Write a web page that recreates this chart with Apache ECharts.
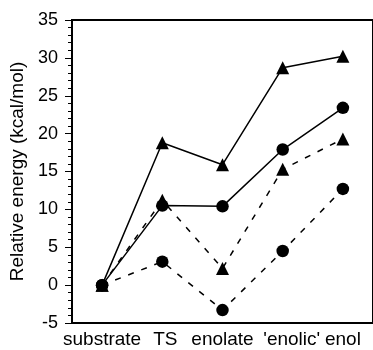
<!DOCTYPE html>
<html>
<head>
<meta charset="utf-8">
<script src="https://cdn.jsdelivr.net/npm/echarts@6/dist/echarts.min.js"></script>
<style>
  html, body { margin: 0; padding: 0; background: #fff; }
  #chart { width: 373px; height: 350px; }
</style>
</head>
<body>
<div id="chart"></div>
<script>
const steps = ["substrate", "TS", "enolate", "'enolic'", "enol"];
const solidTriangle = [0, 18.8, 15.9, 28.7, 30.2];
const solidCircle = [0, 10.5, 10.4, 17.9, 23.4];
const dashedTriangle = [0, 11.2, 2.2, 15.3, 19.3];
const dashedCircle = [0, 3.1, -3.3, 4.5, 12.7];

const FONT = "Liberation Sans";
// small horizontal nudges so the labels sit like the original typeset line
const labelNudge = [0, 6, 0, 18, 0];

function line(data, symbol, dashed) {
  return {
    type: "line",
    data: data,
    symbol: symbol,
    symbolSize: symbol === "circle" ? 12.5 : 13,
    itemStyle: { color: "#000" },
    lineStyle: { color: "#000", width: 1.5, type: dashed ? [6, 8] : "solid" },
    animation: false
  };
}

const rich = {};
labelNudge.forEach((n, i) => {
  rich["l" + i] = { fontFamily: FONT, fontSize: 19, color: "#000", padding: [0, 0, 0, n] };
});

const chart = echarts.init(document.getElementById("chart"));
chart.setOption({
  backgroundColor: "#fff",
  grid: { left: 72, top: 20, right: -9, bottom: 27, show: true, borderColor: "#000", borderWidth: 2 },
  xAxis: {
    type: "category",
    data: steps,
    boundaryGap: true,
    axisLine: { onZero: false, lineStyle: { color: "#000", width: 1.5 } },
    axisTick: { show: false },
    axisLabel: {
      color: "#000", fontFamily: FONT, fontSize: 19, margin: 7, interval: 0,
      formatter: (v, i) => "{l" + i + "|" + v + "}",
      rich: rich
    }
  },
  yAxis: {
    type: "value",
    min: -5,
    max: 35,
    interval: 5,
    name: "Relative energy (kcal/mol)",
    nameLocation: "middle",
    nameGap: 36,
    nameTextStyle: { color: "#000", fontFamily: FONT, fontSize: 19 },
    axisLine: { show: true, lineStyle: { color: "#000", width: 1.5 } },
    axisTick: { show: true, length: 7, lineStyle: { color: "#000" } },
    minorTick: { show: true, splitNumber: 5, length: 4, lineStyle: { color: "#000" } },
    splitLine: { show: false },
    axisLabel: { color: "#000", fontFamily: FONT, fontSize: 18, margin: 14 }
  },
  series: [
    line(solidTriangle, "triangle", false),
    line(solidCircle, "circle", false),
    line(dashedTriangle, "triangle", true),
    line(dashedCircle, "circle", true)
  ]
});
</script>
</body>
</html>
